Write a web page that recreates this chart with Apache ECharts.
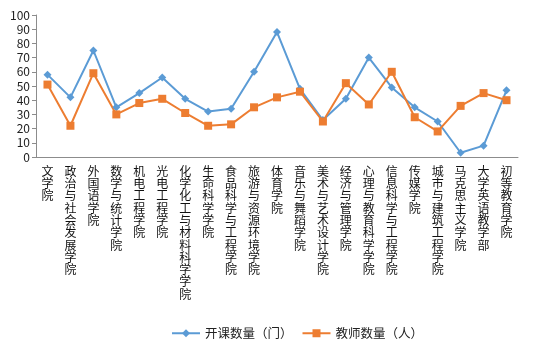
<!DOCTYPE html>
<html><head><meta charset="utf-8">
<script src="https://cdn.jsdelivr.net/npm/echarts@6/dist/echarts.min.js"></script>
<style>html,body{margin:0;padding:0;background:#fff}#c{width:541px;height:345px}</style>
</head><body><div id="c"></div>
<script>
const categories = ['文学院','政治与社会发展学院','外国语学院','数学与统计学院','机电工程学院','光电工程学院','化学化工与材料科学学院','生命科学学院','食品科学与工程学院','旅游与资源环境学院','体育学院','音乐与舞蹈学院','美术与艺术设计学院','经济与管理学院','心理与教育科学学院','信息科学与工程学院','传媒学院','城市与建筑工程学院','马克思主义学院','大学英语教学部','初等教育学院'];
const courses = [58,42,75,35,45,56,41,32,34,60,88,48,26,41,70,49,35,25,3,8,47];
const teachers = [51,22,59,30,38,41,31,22,23,35,42,46,25,52,37,60,28,18,36,45,40];
const yTicks = {min:0, max:100, interval:10};
const chart = echarts.init(document.getElementById('c'));
const font = '"Noto Sans CJK SC", sans-serif';
chart.setOption({
  animation:false,
  textStyle:{fontFamily:font},
  grid:{left:36,right:23,top:15,bottom:188,containLabel:false},
  legend:{left:166,top:322,itemWidth:28,itemHeight:10,itemGap:9,
    textStyle:{fontSize:12.5,color:'#222',fontFamily:font},
    data:['开课数量（门）','教师数量（人）']},
  xAxis:{type:'category',data:categories,boundaryGap:true,
    axisLine:{lineStyle:{color:'#8c8c8c'}},
    axisTick:{length:4,lineStyle:{color:'#8c8c8c'}},
    axisLabel:{interval:0,margin:8,fontSize:12,lineHeight:12.3,color:'#111',fontFamily:font,verticalAlign:'top',
      formatter:v=>v.split('').join('\n')}},
  yAxis:{type:'value',min:yTicks.min,max:yTicks.max,interval:yTicks.interval,
    splitLine:{show:false},
    axisLine:{show:true,lineStyle:{color:'#8c8c8c'}},
    axisTick:{show:true,length:4,lineStyle:{color:'#8c8c8c'}},
    axisLabel:{fontSize:12,color:'#222',margin:6,fontFamily:font}},
  series:[
    {name:'开课数量（门）',type:'line',data:courses,symbol:'diamond',symbolSize:8,
     lineStyle:{color:'#5B9BD5',width:2},itemStyle:{color:'#5B9BD5'}},
    {name:'教师数量（人）',type:'line',data:teachers,symbol:'rect',symbolSize:8,
     lineStyle:{color:'#ED7D31',width:2},itemStyle:{color:'#ED7D31'}}
  ]
});
</script></body></html>
